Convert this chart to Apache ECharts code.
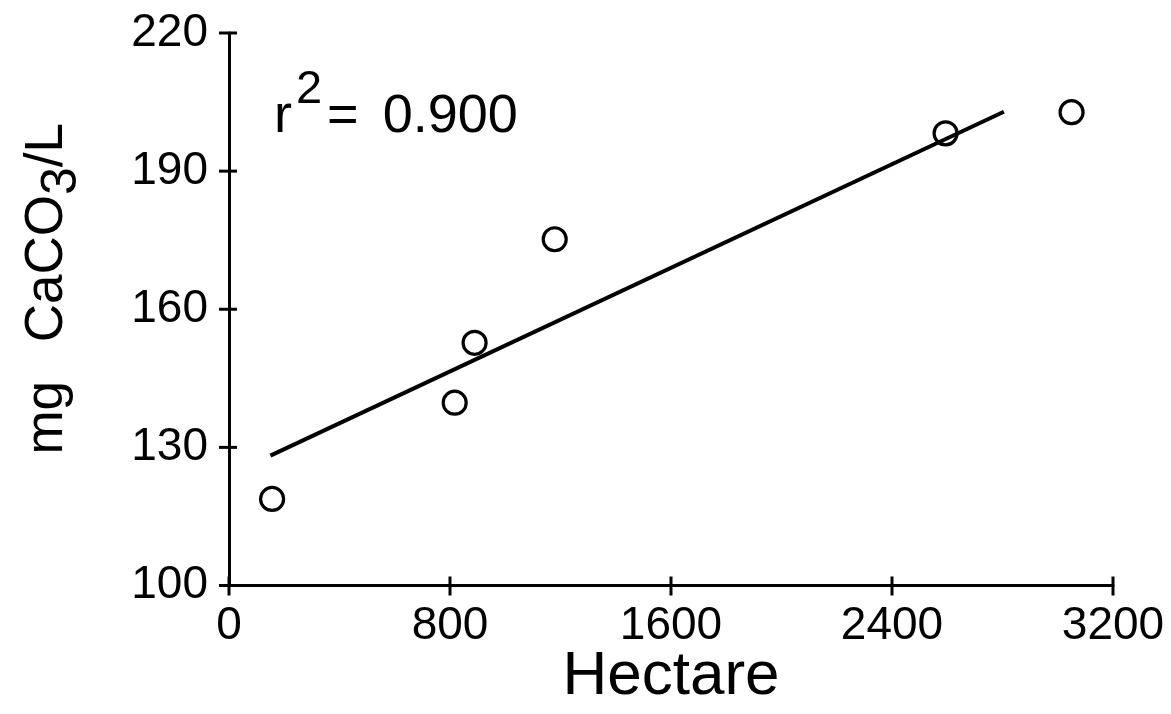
<!DOCTYPE html>
<html>
<head>
<meta charset="utf-8">
<script src="https://cdn.jsdelivr.net/npm/echarts@6/dist/echarts.min.js"></script>
<style>
  html, body { margin: 0; padding: 0; background: #ffffff; }
  #chart { width: 1171px; height: 714px; }
</style>
</head>
<body>
<div id="chart"></div>
<script>
// Alkalinity against watershed area, with least-squares line
const hectares   = [156, 817, 889, 1179, 2594, 3050];
const alkalinity = [118.8, 139.7, 152.7, 175.2, 198.2, 202.8];

// End points of the fitted line
const fitHectares   = [150, 2805];
const fitAlkalinity = [128.2, 202.9];

const xTicks = [0, 800, 1600, 2400, 3200];
const yTicks = [100, 130, 160, 190, 220];
const rSquared = '0.900';

const FONT = 'Liberation Sans';
const INK = '#000000';

const points = hectares.map((h, i) => [h, alkalinity[i]]);
const fitLine = fitHectares.map((h, i) => [h, fitAlkalinity[i]]);
const plain = v => String(v);

const xMin = xTicks[0], xMax = xTicks[xTicks.length - 1];
const yMin = yTicks[0], yMax = yTicks[yTicks.length - 1];

// Tick marks that cross the axis line (the axis draws only one side)
const xTickMarks = xTicks.map(v => [v, yMin]);
const yTickMarks = yTicks.map(v => [xMin, v]);

function crossTick(horizontalAxis, before, after) {
  return function (params, api) {
    const p = api.coord([api.value(0), api.value(1)]);
    const shape = horizontalAxis
      ? { x1: p[0], y1: p[1] - before, x2: p[0], y2: p[1] + after }
      : { x1: p[0] - after, y1: p[1], x2: p[0] + before, y2: p[1] };
    return { type: 'line', shape: shape, style: { stroke: INK, lineWidth: 3 } };
  };
}

const chart = echarts.init(document.getElementById('chart'), null, { renderer: 'canvas' });

chart.setOption({
  animation: false,
  backgroundColor: '#ffffff',
  grid: {
    left: 229, right: 58, top: 33, bottom: 128.5,
    containLabel: false,
    outerBoundsMode: 'none'
  },
  xAxis: {
    type: 'value',
    min: xMin,
    max: xMax,
    position: 'bottom',
    splitLine: { show: false },
    name: 'Hectare',
    nameLocation: 'middle',
    nameGap: 60,
    nameMoveOverlap: false,
    nameTextStyle: { fontFamily: FONT, fontSize: 62, color: INK, lineHeight: 62 },
    axisLine: { show: true, onZero: false, lineStyle: { color: INK, width: 3 } },
    axisTick: { show: false },
    axisLabel: { show: true, customValues: xTicks, formatter: plain, margin: 18, fontFamily: FONT, fontSize: 46, color: INK }
  },
  yAxis: {
    type: 'value',
    min: yMin,
    max: yMax,
    position: 'left',
    splitLine: { show: false },
    name: '{n|mg }{m|CaCO}{d|3}{n|/L}',
    nameLocation: 'middle',
    nameGap: 155,
    nameMoveOverlap: false,
    nameTextStyle: {
      color: INK,
      padding: [0, 0, 0, 41],
      rich: {
        n: { fontFamily: FONT, fontSize: 53, lineHeight: 53, color: INK, verticalAlign: 'top', padding: [0, 0, 16, 0] },
        m: { fontFamily: FONT, fontSize: 53, lineHeight: 53, color: INK, verticalAlign: 'top', padding: [0, 0, 16, 24] },
        d: { fontFamily: FONT, fontSize: 50, lineHeight: 53, color: INK, verticalAlign: 'top', padding: [16, 0, 0, 0] }
      }
    },
    axisLine: { show: true, onZero: false, lineStyle: { color: INK, width: 3 } },
    axisTick: { show: false },
    axisLabel: { show: true, customValues: yTicks, formatter: plain, margin: 21, fontFamily: FONT, fontSize: 46, color: INK }
  },
  graphic: [
    {
      type: 'text',
      left: 274,
      top: 62,
      style: {
        text: '{a|r}{s|2}{a|=}{b|' + rSquared + '}',
        fill: INK,
        rich: {
          a: { fontFamily: FONT, fontSize: 54, lineHeight: 54, fill: INK, verticalAlign: 'top', padding: [28, 0, 0, 0] },
          s: { fontFamily: FONT, fontSize: 47, lineHeight: 47, fill: INK, verticalAlign: 'top', padding: [5, 5, 30, 4] },
          b: { fontFamily: FONT, fontSize: 54, lineHeight: 54, fill: INK, verticalAlign: 'top', padding: [28, 0, 0, 24] }
        }
      }
    }
  ],
  series: [
    {
      type: 'custom',
      data: xTickMarks,
      renderItem: crossTick(true, 9, 10),
      silent: true,
      clip: false,
      z: 1
    },
    {
      type: 'custom',
      data: yTickMarks,
      renderItem: crossTick(false, 8, 10),
      silent: true,
      clip: false,
      z: 1
    },
    {
      type: 'line',
      data: fitLine,
      showSymbol: false,
      symbol: 'none',
      silent: true,
      lineStyle: { color: INK, width: 4 },
      z: 2
    },
    {
      type: 'scatter',
      data: points,
      symbol: 'circle',
      symbolSize: 23,
      silent: true,
      itemStyle: { color: 'rgba(0,0,0,0)', borderColor: INK, borderWidth: 3.2, opacity: 1 },
      z: 3
    }
  ]
});
</script>
</body>
</html>
